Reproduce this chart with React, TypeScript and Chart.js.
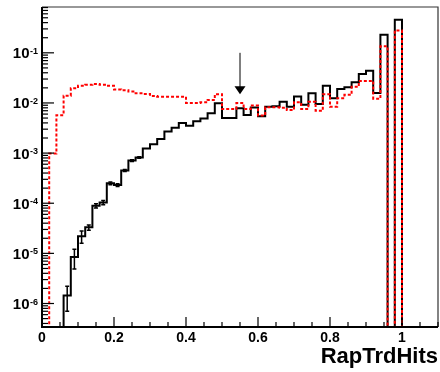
import React, { useEffect, useRef } from "react";
import { Chart, registerables } from "chart.js";

Chart.register(...registerables);

// ---- axis ranges / binning ----
const X_MIN = 0;
const X_MAX = 1.1;
const BIN_WIDTH = 0.02;
const Y_MIN = 3.4e-7;
const Y_MAX = 0.82;

// ---- histogram contents (55 bins of 0.02) ----
const blackValues = [
  0, 0, 0, 1.45e-6, 8.5e-6, 2.2e-5, 3.3e-5, 8.9e-5, 1.03e-4, 2.5e-4,
  2.3e-4, 4.5e-4, 7.1e-4, 8.2e-4, 1.24e-3, 1.5e-3, 1.9e-3, 2.7e-3, 3.2e-3, 4.0e-3,
  3.5e-3, 4.3e-3, 4.9e-3, 6.2e-3, 9.9e-3, 5.0e-3, 5.0e-3, 7.8e-3, 5.75e-3, 8.1e-3,
  5.4e-3, 8.4e-3, 8.6e-3, 1.06e-2, 8.4e-3, 1.34e-2, 9.2e-3, 1.56e-2, 9.5e-3, 2.2e-2,
  1.24e-2, 1.9e-2, 2.06e-2, 2.6e-2, 3.8e-2, 4.4e-2, 1.58e-2, 0.229, 0, 0.457,
  0, 0, 0, 0, 0,
];
const blackErrors = [
  0, 0, 0, 7.5e-7, 3.6e-6, 6e-6, 4e-6, 9e-6, 1e-5, 1.6e-5,
  1.5e-5, 2.2e-5, 2.7e-5, 3e-5, 0, 0, 0, 0, 0, 0,
  0, 0, 0, 0, 0, 0, 0, 0, 0, 0,
  0, 0, 0, 0, 0, 0, 0, 0, 0, 0,
  0, 0, 0, 0, 0, 0, 0, 0, 0, 0,
  0, 0, 0, 0, 0,
];
const redValues = [
  0, 9.8e-4, 5.7e-3, 1.4e-2, 1.97e-2, 2.2e-2, 2.3e-2, 2.4e-2, 2.3e-2, 2.2e-2,
  1.85e-2, 1.8e-2, 1.7e-2, 1.56e-2, 1.51e-2, 1.38e-2, 1.33e-2, 1.33e-2, 1.33e-2, 1.33e-2,
  1.0e-2, 1.0e-2, 1.03e-2, 1.15e-2, 1.5e-2, 7.6e-3, 7.6e-3, 1.0e-2, 7.6e-3, 8.9e-3,
  5.6e-3, 8.2e-3, 8.2e-3, 8.0e-3, 7.2e-3, 1.03e-2, 7.6e-3, 1.06e-2, 7.0e-3, 1.5e-2,
  8.4e-3, 1.24e-2, 1.45e-2, 2.1e-2, 2.75e-2, 2.75e-2, 1.22e-2, 0.135, 0, 0.28,
  0, 0, 0, 0, 0,
];

// ---- tick labels / annotations ----
const xTickValues = [0, 0.2, 0.4, 0.6, 0.8, 1.0];
const xTickLabels = ["0", "0.2", "0.4", "0.6", "0.8", "1"];
const xMinorStep = 0.05;
const yDecades = [-1, -2, -3, -4, -5, -6];
const axisTitle = "RapTrdHits";
const arrowX = 0.55;
const arrowFrom = 0.1;
const arrowTo = 0.015;

const FONT = '"Liberation Sans", Arial, Helvetica, sans-serif';

function toSteps(values: number[]) {
  const pts = values.map((v, i) => ({ x: X_MIN + i * BIN_WIDTH, y: v > 0 ? v : Y_MIN }));
  const last = values[values.length - 1];
  pts.push({ x: X_MAX, y: last > 0 ? last : Y_MIN });
  return pts;
}

const rootStylePlugin = {
  id: "rootStyle",
  afterDatasetsDraw(chart: any) {
    const ctx = chart.ctx;
    const xs = chart.scales.x;
    const ys = chart.scales.y;
    ctx.save();
    ctx.strokeStyle = "#000";
    ctx.lineWidth = 1.5;
    blackValues.forEach((v, i) => {
      const e = blackErrors[i];
      if (!e || v <= 0) return;
      const xc = xs.getPixelForValue(X_MIN + (i + 0.5) * BIN_WIDTH);
      const yTop = ys.getPixelForValue(v + e);
      const yBot = ys.getPixelForValue(Math.max(v - e, Y_MIN));
      ctx.beginPath();
      ctx.moveTo(xc, yTop);
      ctx.lineTo(xc, yBot);
      ctx.moveTo(xc - 2, yTop);
      ctx.lineTo(xc + 2, yTop);
      ctx.moveTo(xc - 2, yBot);
      ctx.lineTo(xc + 2, yBot);
      ctx.stroke();
    });
    ctx.restore();
  },
  afterDraw(chart: any) {
    const ctx = chart.ctx;
    const xs = chart.scales.x;
    const ys = chart.scales.y;
    const a = chart.chartArea;
    ctx.save();

    // frame
    ctx.strokeStyle = "#333";
    ctx.lineWidth = 1.2;
    ctx.beginPath();
    ctx.moveTo(a.left, a.top);
    ctx.lineTo(a.right, a.top);
    ctx.lineTo(a.right, a.bottom);
    ctx.stroke();
    ctx.strokeStyle = "#000";
    ctx.lineWidth = 2;
    ctx.beginPath();
    ctx.moveTo(a.left, a.top);
    ctx.lineTo(a.left, a.bottom);
    ctx.lineTo(a.right, a.bottom);
    ctx.stroke();

    // x ticks
    ctx.lineWidth = 1.2;
    ctx.strokeStyle = "#000";
    const nMinor = Math.round((X_MAX - X_MIN) / xMinorStep);
    for (let k = 0; k <= nMinor; k++) {
      const v = X_MIN + k * xMinorStep;
      const px = xs.getPixelForValue(v);
      const major = xTickValues.some((t) => Math.abs(t - v) < 1e-9);
      ctx.beginPath();
      ctx.moveTo(px, a.bottom);
      ctx.lineTo(px, a.bottom - (major ? 10 : 5));
      ctx.stroke();
    }
    ctx.fillStyle = "#000";
    ctx.font = `bold 14px ${FONT}`;
    ctx.textAlign = "center";
    ctx.textBaseline = "alphabetic";
    xTickValues.forEach((v, i) => {
      ctx.fillText(xTickLabels[i], xs.getPixelForValue(v), a.bottom + 14.5);
    });

    // y ticks (log)
    for (let d = -8; d <= 1; d++) {
      for (let k = 1; k <= 9; k++) {
        const v = k * Math.pow(10, d);
        if (v < Y_MIN || v > Y_MAX) continue;
        const py = ys.getPixelForValue(v);
        ctx.beginPath();
        ctx.moveTo(a.left, py);
        ctx.lineTo(a.left + (k === 1 ? 12 : 6), py);
        ctx.stroke();
      }
    }
    yDecades.forEach((d) => {
      const py = ys.getPixelForValue(Math.pow(10, d));
      const sup = String(d);
      ctx.textAlign = "right";
      ctx.font = `bold 9px ${FONT}`;
      const supW = ctx.measureText(sup).width;
      ctx.fillText(sup, 38, py + 1);
      ctx.font = `bold 15px ${FONT}`;
      ctx.fillText("10", 38 - supW - 0.5, py + 5.5);
    });

    // axis title
    ctx.font = `bold 22px ${FONT}`;
    ctx.textAlign = "right";
    ctx.fillText(axisTitle, a.right, 363);

    // arrow
    const ax = xs.getPixelForValue(arrowX);
    const y0 = ys.getPixelForValue(arrowFrom);
    const y1 = ys.getPixelForValue(arrowTo);
    ctx.lineWidth = 1;
    ctx.beginPath();
    ctx.moveTo(ax, y0);
    ctx.lineTo(ax, y1 - 6);
    ctx.stroke();
    ctx.beginPath();
    ctx.moveTo(ax - 5.5, y1 - 8);
    ctx.lineTo(ax + 5.5, y1 - 8);
    ctx.lineTo(ax, y1);
    ctx.closePath();
    ctx.fill();

    ctx.restore();
  },
};

export default function App() {
  const ref = useRef<HTMLCanvasElement | null>(null);

  useEffect(() => {
    document.body.style.margin = "0";
    const canvas = ref.current;
    if (!canvas) return;
    const chart = new Chart(canvas, {
      type: "line",
      data: {
        datasets: [
          {
            label: "red",
            data: toSteps(redValues),
            stepped: "before",
            borderColor: "#ff0000",
            borderWidth: 2,
            borderDash: [3, 2],
            pointRadius: 0,
            fill: false,
          },
          {
            label: "black",
            data: toSteps(blackValues),
            stepped: "before",
            borderColor: "#000000",
            borderWidth: 2,
            pointRadius: 0,
            fill: false,
          },
        ],
      },
      options: {
        animation: false,
        responsive: false,
        maintainAspectRatio: false,
        parsing: false,
        layout: { padding: { left: 42, right: 2, top: 7, bottom: 45 } },
        plugins: { legend: { display: false }, tooltip: { enabled: false } },
        scales: {
          x: { type: "linear", min: X_MIN, max: X_MAX, display: false },
          y: { type: "logarithmic", min: Y_MIN, max: Y_MAX, display: false },
        },
      },
      plugins: [rootStylePlugin],
    } as any);
    return () => chart.destroy();
  }, []);

  return (
    <div style={{ width: 440, height: 372, background: "#fff" }}>
      <canvas ref={ref} width={440} height={372} style={{ display: "block", width: 440, height: 372 }} />
    </div>
  );
}
